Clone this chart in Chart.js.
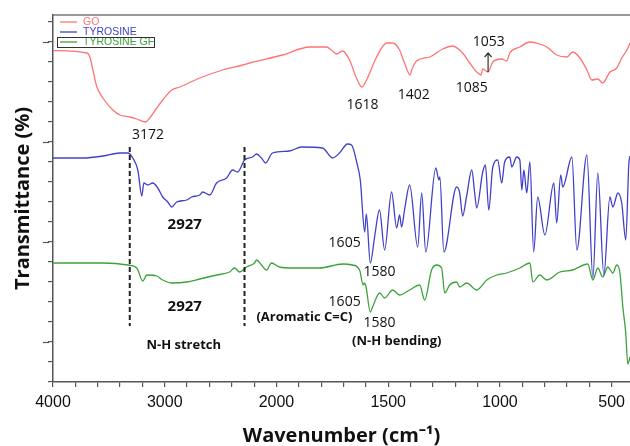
<!DOCTYPE html>
<html>
<head>
<meta charset="utf-8">
<title>FTIR spectra</title>
<script src="https://cdn.jsdelivr.net/npm/chart.js@4.4.1/dist/chart.umd.min.js"></script>
<style>
  html, body { margin: 0; padding: 0; background: #fff; }
  #wrap { width: 630px; height: 446px; }
</style>
</head>
<body>
<div id="wrap"><canvas id="ftir" width="630" height="446"></canvas></div>
<script>
// FTIR spectra of GO, tyrosine and tyrosine-GF (stacked, arbitrary transmittance offsets)

const seriesNames = ['GO', 'TYROSINE', 'TYROSINE GF'];

const goWavenumbers = [4000, 3696, 3670, 3643, 3607, 3554, 3464, 3402, 3312, 3250, 3172, 3134, 3071, 3018, 2937, 2866, 2687, 2482, 2303, 2241,
  1973, 1852, 1776, 1754, 1731, 1704, 1673, 1642, 1618, 1597, 1552, 1507, 1480, 1449, 1427, 1402, 1395, 1373, 1314, 1256,
  1212, 1167, 1135, 1104, 1085, 1077, 1053, 1032, 992, 970, 956, 911, 866, 822, 790, 746, 701, 674, 642, 611,
  589, 562, 540, 508, 477, 455, 432, 418];
const goValues = [16.57, 16.45, 16.25, 15.6, 14.75, 14.2, 13.6, 13.35, 13.25, 13.15, 13.0, 13.2, 13.7, 14.1, 14.6, 14.75, 15.2, 15.6, 15.85, 15.95,
  16.35, 16.75, 16.75, 16.6, 16.4, 16.55, 16.1, 15.2, 14.75, 15.1, 16.25, 16.95, 16.95, 16.6, 15.95, 15.35, 15.6, 16.05, 16.25, 16.65,
  16.8, 16.45, 15.95, 15.5, 15.35, 15.65, 15.5, 16.0, 16.15, 16.05, 16.45, 16.75, 17.0, 16.9, 16.75, 16.35, 16.25, 16.5, 16.2, 15.6,
  15.1, 15.15, 14.95, 15.5, 15.7, 16.2, 16.6, 16.95];

const tyrWavenumbers = [4000, 3732, 3550, 3402, 3330, 3286, 3241, 3205, 3187, 3152, 3107, 3062, 3018, 2973, 2937, 2893, 2803, 2759, 2687, 2660,
  2598, 2536, 2446, 2393, 2348, 2285, 2214, 2178, 2134, 2098, 2036, 1942, 1888, 1794, 1749, 1718, 1682, 1664, 1640, 1625,
  1605, 1598, 1580, 1561, 1539, 1516, 1485, 1462, 1449, 1440, 1427, 1404, 1368, 1350, 1332, 1287, 1273, 1269, 1251, 1194,
  1180, 1167, 1149, 1126, 1113, 1104, 1077, 1065, 1050, 1032, 1010, 992, 979, 956, 947, 925, 911, 902, 893, 880,
  866, 849, 831, 799, 759, 746, 728, 719, 678, 656, 611, 584, 562, 535, 508, 495, 472, 455, 437, 423, 418];
const tyrValues = [11.2, 11.2, 11.3, 11.45, 11.45, 11.2, 10.6, 9.3, 9.95, 9.85, 9.95, 9.7, 9.25, 9.0, 8.75, 9.0, 9.1, 9.25, 9.35, 9.5,
  9.35, 9.95, 10.2, 10.6, 10.5, 11.1, 11.25, 11.4, 11.2, 10.95, 11.45, 11.55, 11.75, 11.7, 11.2, 11.45, 11.9, 11.85, 10.95, 10.1,
  7.5, 8.4, 5.95, 7.25, 8.6, 6.6, 9.5, 7.7, 8.35, 7.75, 8.6, 9.85, 6.75, 9.45, 6.5, 10.7, 10.1, 10.25, 6.5, 9.75,
  9.45, 8.3, 9.3, 10.6, 9.45, 8.7, 10.5, 10.85, 8.6, 10.75, 11.1, 9.95, 11.0, 11.25, 10.75, 11.25, 11.1, 9.6, 10.6, 9.45,
  11.0, 6.5, 9.25, 7.35, 9.95, 7.95, 10.35, 9.75, 11.25, 6.6, 11.35, 5.2, 10.45, 5.35, 9.25, 8.75, 9.45, 8.95, 7.1, 10.95, 11.3];

const gfWavenumbers = [4000, 3554, 3330, 3250, 3196, 3161, 3071, 3018, 2937, 2803, 2687, 2536, 2420, 2375, 2330, 2268, 2196, 2178, 2134, 2089,
  2045, 1987, 1928, 1807, 1704, 1660, 1628, 1612, 1607, 1600, 1580, 1570, 1538, 1516, 1480, 1449, 1404, 1359, 1337, 1306,
  1283, 1261, 1247, 1225, 1194, 1180, 1149, 1104, 1059, 1014, 970, 911, 866, 853, 822, 790, 732, 674, 607, 584,
  562, 540, 517, 495, 477, 463, 450, 437, 428, 418];
const gfValues = [5.95, 5.95, 5.85, 5.7, 5.05, 5.35, 5.3, 5.1, 4.95, 5.0, 5.15, 5.35, 5.5, 5.7, 5.5, 5.75, 5.95, 6.1, 5.85, 5.6,
  5.95, 5.75, 5.7, 5.7, 5.9, 5.85, 5.6, 4.85, 4.95, 4.8, 3.5, 3.75, 4.45, 4.2, 4.6, 4.35, 4.6, 4.85, 4.1, 5.6,
  5.85, 5.7, 4.45, 4.85, 5.0, 4.75, 4.95, 4.6, 5.1, 5.35, 5.45, 5.7, 5.95, 5.0, 5.35, 5.1, 5.5, 5.6, 5.9, 5.1,
  5.7, 5.25, 5.75, 5.45, 5.85, 5.45, 3.75, 2.45, 0.9, 1.25];

const xLabelWavenumbers = [4000, 3000, 2000, 1500, 1000, 500];
const yTickValues = [0, 1, 2, 3, 4, 5, 6, 7, 8, 9, 10, 11, 12, 13, 14, 15, 16, 17, 18];
const yMajorTicks = [2, 7, 12, 17];

// peak annotations: text, wavenumber / value where the text sits
const peakLabels = [
  { text: '3172', w: 3150, v: 12.35 },
  { text: '1618', w: 1615, v: 13.85 },
  { text: '1402', w: 1386, v: 14.35 },
  { text: '1085', w: 1126, v: 14.7 },
  { text: '1053', w: 1050, v: 17.0 },
  { text: '2927', w: 2821, v: 7.85, bold: true },
  { text: '2927', w: 2821, v: 3.75, bold: true },
  { text: '1605', w: 1695, v: 6.95 },
  { text: '1580', w: 1539, v: 5.5 },
  { text: '1605', w: 1695, v: 4.0 },
  { text: '1580', w: 1539, v: 2.95 },
  { text: 'N-H stretch', w: 2830, v: 1.85, bold: true, small: true },
  { text: '(Aromatic C=C)', w: 1875, v: 3.25, bold: true, small: true },
  { text: '(N-H bending)', w: 1462, v: 2.05, bold: true, small: true }
];
const guideWavenumbers = [3313, 2286];
const guideRange = [2.8, 11.75];

const colors = ['#ff7373', '#4141c8', '#3ca23c'];

// the region above 2000 cm-1 is drawn at half scale
const BREAK = 2000;
function toAxis(w) { return w <= BREAK ? w : BREAK + (w - BREAK) / 2; }
function fromAxis(u) { return u <= BREAK ? u : BREAK + (u - BREAK) * 2; }

const xTickAxisValues = [];
for (let u = 500; u <= 3000; u += 100) xTickAxisValues.push(u);
const xMajorAxisValues = xLabelWavenumbers.map(toAxis);

function points(ws, vs) {
  return ws.map((w, i) => ({ x: toAxis(w), y: vs[i] }));
}

const overlayPlugin = {
  id: 'overlay',
  afterDraw(chart) {
    const { ctx, chartArea: area, scales: { x, y } } = chart;
    ctx.save();

    // top frame line
    ctx.strokeStyle = '#777';
    ctx.lineWidth = 1.5;
    ctx.beginPath();
    ctx.moveTo(area.left, area.top);
    ctx.lineTo(area.right, area.top);
    ctx.stroke();

    // longer major ticks on the y axis
    ctx.strokeStyle = '#555';
    ctx.lineWidth = 1.2;
    yMajorTicks.forEach(v => {
      const py = Math.round(y.getPixelForValue(v)) + 0.5;
      ctx.beginPath();
      ctx.moveTo(area.left - 10, py);
      ctx.lineTo(area.left - 4, py);
      ctx.stroke();
    });

    // dashed guides
    ctx.strokeStyle = '#222';
    ctx.lineWidth = 2;
    ctx.setLineDash([5, 3]);
    guideWavenumbers.forEach(w => {
      const px = x.getPixelForValue(toAxis(w));
      ctx.beginPath();
      ctx.moveTo(px, y.getPixelForValue(guideRange[1]));
      ctx.lineTo(px, y.getPixelForValue(guideRange[0]));
      ctx.stroke();
    });
    ctx.setLineDash([]);

    // peak labels
    ctx.fillStyle = '#111';
    ctx.textAlign = 'center';
    ctx.textBaseline = 'middle';
    peakLabels.forEach(l => {
      const size = l.small ? 13 : (l.bold ? 15 : 14);
      ctx.font = (l.bold ? 'bold ' : '') + size + 'px "Open Sans"';
      ctx.fillText(l.text, x.getPixelForValue(toAxis(l.w)), y.getPixelForValue(l.v));
    });

    // arrow for 1053
    const ax = x.getPixelForValue(toAxis(1053));
    const ay0 = y.getPixelForValue(15.5);
    const ay1 = y.getPixelForValue(16.45);
    ctx.strokeStyle = '#333';
    ctx.lineWidth = 1.2;
    ctx.beginPath();
    ctx.moveTo(ax, ay0);
    ctx.lineTo(ax, ay1);
    ctx.moveTo(ax - 3.5, ay1 + 4);
    ctx.lineTo(ax, ay1);
    ctx.lineTo(ax + 3.5, ay1 + 4);
    ctx.stroke();

    // legend
    ctx.textAlign = 'left';
    ctx.font = '10.5px "Liberation Sans"';
    chart.data.datasets.forEach((ds, i) => {
      const ly = area.top + 7 + i * 10;
      ctx.strokeStyle = ds.borderColor;
      ctx.lineWidth = 1.3;
      ctx.beginPath();
      ctx.moveTo(area.left + 7, ly);
      ctx.lineTo(area.left + 24, ly);
      ctx.stroke();
      ctx.fillStyle = ds.borderColor;
      ctx.fillText(ds.label, area.left + 30, ly + 0.5);
    });
    ctx.strokeStyle = '#333';
    ctx.lineWidth = 1;
    ctx.strokeRect(area.left + 4.5, area.top + 22.5, 97, 10);

    ctx.restore();
  }
};

new Chart(document.getElementById('ftir'), {
  type: 'line',
  data: {
    datasets: [
      { label: seriesNames[0], data: points(goWavenumbers, goValues), borderColor: colors[0] },
      { label: seriesNames[1], data: points(tyrWavenumbers, tyrValues), borderColor: colors[1] },
      { label: seriesNames[2], data: points(gfWavenumbers, gfValues), borderColor: colors[2] }
    ]
  },
  options: {
    responsive: false,
    animation: false,
    layout: { padding: { top: 15, right: 0, left: 0, bottom: 0 } },
    elements: {
      point: { radius: 0 },
      line: { borderWidth: 1.3, tension: 0, cubicInterpolationMode: 'monotone' }
    },
    plugins: {
      legend: { display: false },
      tooltip: { enabled: false }
    },
    scales: {
      x: {
        type: 'linear',
        reverse: true,
        min: 418,
        max: 3000,
        afterBuildTicks: s => { s.ticks = xTickAxisValues.map(v => ({ value: v })); },
        afterFit: s => { s.height = 64; },
        ticks: {
          autoSkip: false,
          maxRotation: 0,
          padding: 6,
          color: '#111',
          font: { family: 'Liberation Sans', size: 16 },
          callback: v => xMajorAxisValues.includes(v) ? String(fromAxis(v)) : ''
        },
        grid: { drawOnChartArea: false, tickLength: 5, color: '#555', lineWidth: 1.2 },
        border: { color: '#555', width: 1.5 },
        title: {
          display: true,
          text: 'Wavenumber (cm\u207B\u00B9)',
          color: '#111',
          font: { family: 'Open Sans', size: 20, weight: 'bold', lineHeight: 1 },
          padding: { top: 0, bottom: 0 }
        }
      },
      y: {
        type: 'linear',
        min: 0,
        max: 18.35,
        afterBuildTicks: s => { s.ticks = yTickValues.map(v => ({ value: v })); },
        afterFit: s => { s.width = 53; },
        ticks: { display: false },
        grid: { drawOnChartArea: false, tickLength: 5, color: '#555', lineWidth: 1.2 },
        border: { color: '#555', width: 1.5 },
        title: {
          display: true,
          text: 'Transmittance (%)',
          color: '#111',
          font: { family: 'Open Sans', size: 20, weight: 'bold' },
          padding: { top: 11 }
        }
      }
    }
  },
  plugins: [overlayPlugin]
});
</script>
</body>
</html>
